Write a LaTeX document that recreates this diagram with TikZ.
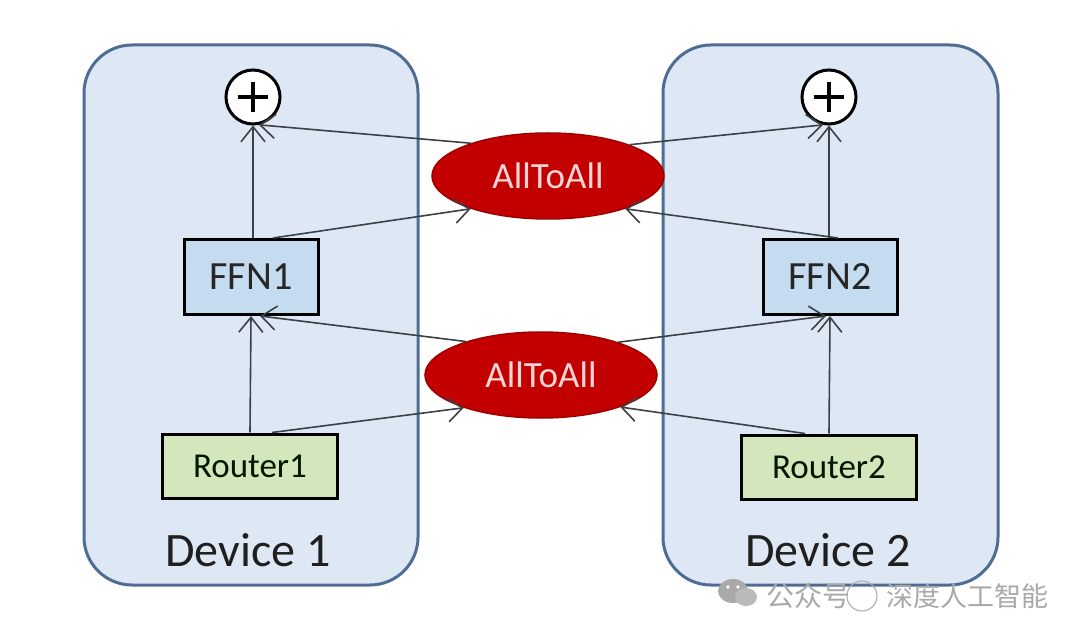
\documentclass[tikz,border=0pt]{standalone}
\usepackage{fontspec}
\setmainfont{Carlito}
\newfontfamily\cjkfont{Noto Sans CJK SC}
\usetikzlibrary{shapes.geometric,arrows.meta,calc}
\definecolor{devfill}{HTML}{DEE7F4}
\definecolor{devline}{HTML}{4F6C94}
\definecolor{ffnfill}{HTML}{C5DBF0}
\definecolor{routfill}{HTML}{D4E7BC}
\definecolor{a2afill}{HTML}{C30000}
\definecolor{a2aline}{HTML}{9E0000}
\definecolor{a2atext}{HTML}{F8D6D6}
\definecolor{conn}{HTML}{3C4148}
\definecolor{wm}{HTML}{A9A9A9}
\tikzset{
  device/.style={draw=devline, line width=3pt, fill=devfill, rounded corners=48pt},
  ffnbox/.style={draw=black, line width=3pt, fill=ffnfill, minimum width=134pt, minimum height=75pt, inner sep=0pt, font=\fontsize{40}{44}\selectfont, text=black!85},
  routbox/.style={draw=black, line width=3pt, fill=routfill, minimum width=175pt, minimum height=64pt, inner sep=0pt, font=\fontsize{35}{40}\selectfont, text=black!85!green!60!black},
  a2a/.style={ellipse, draw=a2aline, line width=1.5pt, fill=a2afill, minimum width=232pt, minimum height=86pt, inner sep=0pt, font=\fontsize{37}{42}\selectfont, text=a2atext},
  plusnode/.style={circle, draw=black, line width=3pt, fill=white, minimum size=54pt, inner sep=0pt},
  devlabel/.style={font=\fontsize{48}{52}\selectfont, text=black!88},
  arr/.style={draw=conn, line width=1.6pt, -{Straight Barb[length=15pt,width=24pt,line width=1.6pt]}},
}
\begin{document}
\begin{tikzpicture}[x=1pt,y=-1pt]
\useasboundingbox[fill=white] (0,0) rectangle (1080,639);
% device boxes
\draw[device] (84,45) rectangle (418,585);
\draw[device] (663,45) rectangle (998,585);
% nodes
\node[plusnode] (p1) at (253,97) {};
\node[plusnode] (p2) at (829,97) {};
\foreach \c in {p1,p2}{
  \draw[line width=3.5pt] ($(\c)+(-15,0)$) -- ($(\c)+(15,0)$);
  \draw[line width=3.5pt] ($(\c)+(0,-15)$) -- ($(\c)+(0,15)$);
}
\node[ffnbox] (f1) at (251,277) {FFN1};
\node[ffnbox] (f2) at (830,277) {FFN2};
\node[routbox] (r1) at (250,466) {Router1};
\node[routbox] (r2) at (829,467) {Router2};
\node[devlabel] (d1) at (248,550) {Device 1};
\node[devlabel] (d2) at (828,550) {Device 2};
\node[a2a] (t) at (548,176) {AllToAll};
\node[a2a] (b) at (541,375) {AllToAll};
% left connectors
\draw[arr] (r1.north) -- (f1.south);
\draw[arr] ([xshift=22pt]r1.north) -- (b.203);
\draw[arr] (b.156) -- ([xshift=9pt]f1.south);
\draw[arr] ([xshift=2pt]f1.north) -- (p1.south);
\draw[arr] ([xshift=22pt]f1.north) -- (t.203);
\draw[arr] (t.157) -- (p1.-78);
% right connectors
\draw[arr] (r2.north) -- (f2.south);
\draw[arr] ([xshift=-24pt]r2.north) -- (b.338);
\draw[arr] (b.23) -- ([xshift=-4pt]f2.south);
\draw[arr] ([xshift=-1pt]f2.north) -- (p2.south);
\draw[arr] ([xshift=8pt]f2.north) -- (t.337);
\draw[arr] (t.21) -- (p2.-102);
% watermark
\fill[wm] (733,591) ellipse (15pt and 12pt);
\fill[wm!80] (746,597) ellipse (11pt and 9pt);
\fill[white] (728,587) circle (1.8pt) (738,587) circle (1.8pt);
\node[text=wm, font=\cjkfont\fontsize{28}{30}\selectfont, anchor=west, inner sep=0pt] (wm1) at (766,596) {公众号};
\node[draw=wm, line width=1pt, circle, minimum size=30pt, inner sep=0pt] (wm2) at (862,596) {};
\node[text=wm, font=\cjkfont\fontsize{27}{30}\selectfont, anchor=west, inner sep=0pt] (wm3) at (886,596) {深度人工智能};
\end{tikzpicture}
\end{document}
